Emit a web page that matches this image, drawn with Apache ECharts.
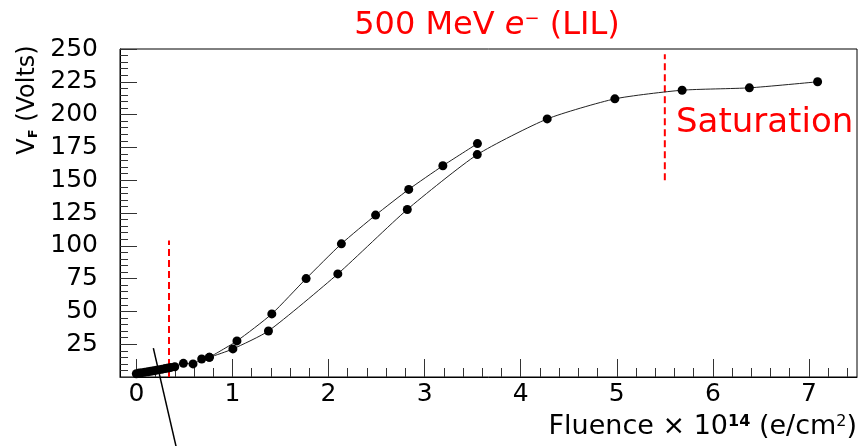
<!DOCTYPE html>
<html><head><meta charset="utf-8">
<script src="https://cdn.jsdelivr.net/npm/echarts@6/dist/echarts.min.js"></script>
<style>html,body{margin:0;padding:0;background:#fff}#c{width:858px;height:446px}</style>
</head><body><div id="c"></div>
<script>
// ---- data ----
const xTickValues = [0, 1, 2, 3, 4, 5, 6, 7];
const yTickValues = [25, 50, 75, 100, 125, 150, 175, 200, 225, 250];

// main branch (low-fluence cluster, lower curve, saturation part)
const lowerX = [0, 0.03, 0.06, 0.09, 0.12, 0.15, 0.18, 0.21, 0.24, 0.27, 0.30, 0.33, 0.36, 0.40, 0.49, 0.59, 0.68, 0.76, 1.005, 1.375, 2.097, 2.82, 3.548, 4.276, 4.98, 5.68, 6.38, 7.09];
const lowerY = [2.5, 3.0, 3.3, 3.7, 4.0, 4.4, 4.8, 5.2, 5.6, 6.0, 6.4, 6.8, 7.3, 7.8, 10.4, 10.0, 13.7, 15.0, 21.4, 35.1, 78.6, 127.7, 169.5, 196.7, 212.0, 218.6, 220.4, 225.0];
// upper branch
const upperX = [0.76, 1.047, 1.41, 1.767, 2.134, 2.49, 2.835, 3.19, 3.55];
const upperY = [15.0, 27.5, 48.1, 75.0, 101.5, 123.4, 143.0, 161.0, 177.9];

// red dashed markers
const thresholdX = 0.34, thresholdY = [0, 104];
const saturationX = 5.5, saturationY = [150, 246];
// black stub line near origin
const stubX = [0.177, 0.42], stubY = [22, -55];

const RED = '#ff0000';
const FONT = 'DejaVu Sans';

function pairs(xs, ys) { return xs.map((x, i) => [x, ys[i]]); }
const minorX = [];
for (let k = 1; k < 38; k++) { if (k % 5) minorX.push(Math.round(k * 20) / 100); }

const chart = echarts.init(document.getElementById('c'), null, {renderer: 'canvas'});
const option = {
  animation: false,
  backgroundColor: '#fff',
  grid: {left: 120, right: 1, top: 49, bottom: 69, show: true, borderColor: '#000', borderWidth: 1, containLabel: false},
  xAxis: [{
    type: 'value', min: -0.17, max: 7.5, position: 'bottom',
    axisLine: {onZero: false, lineStyle: {color: '#000', width: 1}},
    axisTick: {inside: true, length: 18, customValues: xTickValues, lineStyle: {color: '#333'}},
    axisLabel: {customValues: xTickValues, fontFamily: FONT, fontSize: 25, color: '#000', margin: 5,
      formatter: v => String(Math.round(v))},
    splitLine: {show: false}
  }, {
    type: 'value', min: -0.17, max: 7.5, position: 'bottom',
    axisLine: {show: false, onZero: false},
    axisTick: {inside: true, length: 9, customValues: minorX, lineStyle: {color: '#333'}},
    axisLabel: {show: false}, splitLine: {show: false}
  }],
  yAxis: {
    type: 'value', min: 0, max: 250, interval: 25,
    axisLine: {show: true, onZero: false, lineStyle: {color: '#000', width: 1}},
    axisTick: {show: true, inside: true, length: 17, lineStyle: {color: '#333'}},
    minorTick: {show: true, splitNumber: 5, length: 8, lineStyle: {color: '#333'}},
    axisLabel: {fontFamily: FONT, fontSize: 25, color: '#000', margin: 22, padding: [6, 0, 0, 0],
      formatter: v => (v === 0 ? '' : String(v))},
    splitLine: {show: false}
  },
  series: [
    {type: 'line', data: pairs(lowerX, lowerY), smooth: 0.2, symbol: 'circle', symbolSize: 9,
      itemStyle: {color: '#000'}, lineStyle: {color: '#222', width: 1}, z: 3},
    {type: 'line', data: pairs(upperX, upperY), smooth: 0.2, symbol: 'circle', symbolSize: 9,
      itemStyle: {color: '#000'}, lineStyle: {color: '#222', width: 1}, z: 3},
    {type: 'line', data: [[thresholdX, thresholdY[0]], [thresholdX, thresholdY[1]]], symbol: 'none',
      lineStyle: {color: RED, width: 2, type: [7, 4]}, z: 2},
    {type: 'line', data: [[saturationX, saturationY[0]], [saturationX, saturationY[1]]], symbol: 'none',
      lineStyle: {color: RED, width: 2, type: [7, 4]}, z: 2},
    {type: 'line', data: pairs(stubX, stubY), symbol: 'none', clip: false,
      lineStyle: {color: '#000', width: 1.5}, z: 4}
  ],
  graphic: [
    {type: 'text', x: 487, y: 26, z: 10, style: {
      text: '{a|500 MeV }{i|e}{s|−}{a| (LIL)}', textAlign: 'center', textVerticalAlign: 'middle',
      rich: {a: {fontFamily: FONT, fontSize: 32, fill: RED, color: RED},
             i: {fontFamily: FONT, fontSize: 32, fontStyle: 'italic', fill: RED, color: RED},
             s: {fontFamily: FONT, fontSize: 18, fill: RED, color: RED, verticalAlign: 'top'}}
    }},
    {type: 'text', x: 676, y: 123, z: 10, style: {
      text: 'Saturation', font: '34px "DejaVu Sans"', fill: RED, textAlign: 'left', textVerticalAlign: 'middle'}},
    {type: 'text', x: 857, y: 427, z: 10, style: {
      text: '{a|Fluence × 10}{s|14}{a| (e/cm}{t|2}{a|)}', textAlign: 'right', textVerticalAlign: 'middle',
      rich: {a: {fontFamily: FONT, fontSize: 27, fill: '#000', color: '#000'},
             s: {fontFamily: FONT, fontSize: 16, fontWeight: 'bold', fill: '#000', color: '#000', verticalAlign: 'top'},
             t: {fontFamily: FONT, fontSize: 16, fill: '#000', color: '#000', verticalAlign: 'top'}}
    }},
    {type: 'text', x: 28, y: 100, rotation: Math.PI / 2, z: 10, style: {
      text: '{a|V}{f|F}{a| (Volts)}', textAlign: 'center', textVerticalAlign: 'middle',
      rich: {a: {fontFamily: FONT, fontSize: 24, fill: '#000', color: '#000'},
             f: {fontFamily: FONT, fontSize: 13, fontWeight: 'bold', fill: '#000', color: '#000', verticalAlign: 'bottom'}}
    }}
  ]
};
chart.setOption(option);
</script>
</body></html>
